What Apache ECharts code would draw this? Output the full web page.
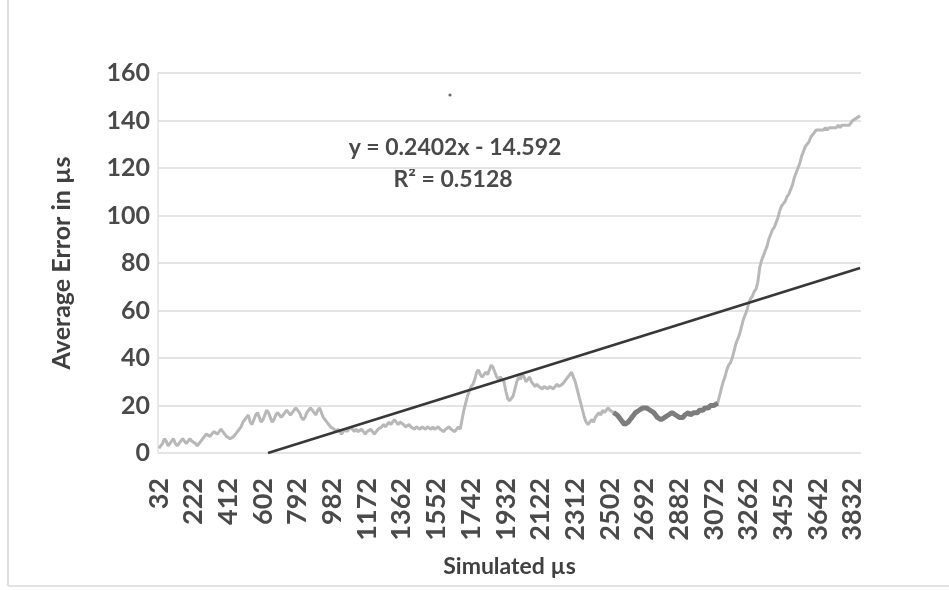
<!DOCTYPE html>
<html>
<head>
<meta charset="utf-8">
<script src="https://cdn.jsdelivr.net/npm/echarts@6/dist/echarts.min.js"></script>
<style>
  html, body { margin: 0; padding: 0; background: #ffffff; }
  #chart { width: 949px; height: 590px; }
</style>
</head>
<body>
<div id="chart"></div>
<script>
// Simulated time axis: one sample every 10 µs starting at 32 µs
const FIRST_US = 32;
const STEP_US = 10;
const SAMPLE_COUNT = 385;
const categories = [];
for (let i = 0; i < SAMPLE_COUNT; i++) categories.push(String(FIRST_US + i * STEP_US));

// Average error (µs) per sample, 19 samples per row
const avgError = [
  2, 3, 4, 6, 5, 3, 4, 5, 6, 4, 3, 4, 5, 6, 5, 4, 4, 6, 5,
  5, 4, 3, 4, 5, 6, 7, 8, 8, 7, 8, 9, 9, 8, 9, 10, 9, 8, 7,
  7, 6, 6, 7, 8, 9, 10, 11, 13, 14, 15, 16, 13, 12, 14, 16, 17, 15, 13,
  14, 16, 18, 17, 15, 13, 14, 16, 17, 16, 15, 16, 17, 18, 17, 16, 17, 18, 19,
  18, 17, 15, 14, 15, 17, 18, 19, 18, 17, 16, 18, 19, 17, 15, 14, 13, 12, 11,
  11, 10, 9, 10, 9, 8, 9, 10, 9, 10, 11, 10, 9, 10, 9, 9, 10, 9, 8,
  9, 9, 10, 9, 8, 9, 10, 10, 11, 12, 11, 12, 13, 12, 13, 14, 13, 12, 13,
  13, 12, 11, 11, 12, 11, 11, 10, 11, 11, 10, 11, 11, 10, 11, 11, 10, 11, 10,
  10, 11, 10, 10, 9, 10, 10, 11, 10, 10, 9, 10, 11, 10, 14, 18, 21, 24, 26,
  28, 29, 31, 34, 35, 33, 32, 33, 34, 33, 35, 37, 36, 34, 32, 31, 32, 31, 30,
  26, 23, 22, 22, 24, 27, 30, 32, 31, 33, 32, 30, 31, 32, 30, 29, 28, 29, 28,
  28, 27, 28, 28, 27, 28, 28, 27, 28, 29, 28, 28, 29, 30, 31, 32, 33, 34, 32,
  30, 27, 24, 21, 18, 15, 13, 12, 13, 14, 13, 15, 16, 17, 16, 18, 17, 18, 19,
  18, 18, 17, 17, 16, 15, 14, 13, 12, 12, 13, 14, 15, 16, 17, 17, 18, 18, 19,
  19, 19, 19, 18, 18, 17, 16, 15, 15, 14, 14, 15, 15, 16, 16, 17, 17, 16, 16,
  15, 15, 15, 16, 16, 17, 16, 16, 17, 17, 17, 18, 18, 18, 19, 19, 19, 20, 20,
  20, 20, 21, 24, 27, 30, 32, 35, 37, 38, 40, 43, 46, 48, 50, 53, 56, 58, 60,
  63, 65, 66, 68, 69, 72, 78, 81, 83, 85, 87, 90, 92, 94, 95, 97, 99, 102, 104,
  105, 106, 108, 109, 111, 113, 116, 118, 120, 122, 125, 127, 129, 130, 131, 133, 134, 135, 136,
  136, 136, 136, 136, 137, 136, 137, 137, 137, 137, 137, 138, 137, 138, 138, 138, 138, 138, 139,
  140, 140, 141, 141, 142
];

// Stretch of samples drawn emphasised (sample indices, inclusive)
const highlightFrom = 249;
const highlightTo = 306;

// Linear trendline over the sample number (1-based)
const trendSlope = 0.2402;
const trendIntercept = -14.592;
const trendR2 = 0.5128;

const yTicks = [0, 20, 40, 60, 80, 100, 120, 140, 160];

const highlighted = avgError.map((v, i) => (i >= highlightFrom && i <= highlightTo ? v : null));
const trendStart = -trendIntercept / trendSlope;           // where the fit crosses 0
const trendEnd = SAMPLE_COUNT;
const trendData = [
  [trendStart, 0],
  [trendEnd, trendSlope * trendEnd + trendIntercept]
];

const FONT = 'Lato, "Open Sans", sans-serif';
const TEXT = '#404040';
const chart = echarts.init(document.getElementById('chart'), null, { renderer: 'canvas' });

chart.setOption({
  animation: false,
  backgroundColor: '#ffffff',
  grid: { left: 158, right: 88, top: 73, bottom: 137, containLabel: false },
  xAxis: [
    {
      type: 'category',
      data: categories,
      boundaryGap: true,
      name: 'Simulated µs',
      nameLocation: 'middle',
      nameGap: 102,
      nameTextStyle: { fontFamily: FONT, fontSize: 23, fontWeight: 'bold', color: TEXT },
      axisLine: { show: false },
      axisTick: { show: false },
      axisLabel: {
        interval: 18,
        rotate: 90,
        margin: 25,
        fontFamily: FONT,
        fontSize: 27,
        fontWeight: 'bold',
        color: '#4a4a4a'
      },
      splitLine: { show: false }
    },
    {
      type: 'value',
      min: 0.5,
      max: SAMPLE_COUNT + 0.5,
      show: false
    }
  ],
  yAxis: {
    type: 'value',
    min: yTicks[0],
    max: yTicks[yTicks.length - 1],
    interval: 20,
    name: 'Average Error in µs',
    nameLocation: 'middle',
    nameGap: 84,
    nameRotate: 90,
    nameTextStyle: { fontFamily: FONT, fontSize: 25, fontWeight: 'bold', color: TEXT },
    axisLine: { show: true, lineStyle: { color: '#e2e2e2', width: 1.5 } },
    axisTick: { show: false },
    axisLabel: { margin: 8, fontFamily: FONT, fontSize: 25, fontWeight: 'bold', color: '#4a4a4a' },
    splitLine: { show: true, lineStyle: { color: '#e4e4e4', width: 2 } }
  },
  series: [
    {
      name: 'Average error',
      type: 'line',
      data: avgError,
      showSymbol: false,
      symbol: 'none',
      lineStyle: { color: '#b8b8b8', width: 3 },
      z: 2
    },
    {
      name: 'Emphasised stretch',
      type: 'line',
      data: highlighted,
      showSymbol: false,
      symbol: 'none',
      connectNulls: false,
      lineStyle: { color: '#7c7c7c', width: 5 },
      z: 3
    },
    {
      name: 'Linear trend',
      type: 'line',
      xAxisIndex: 1,
      data: trendData,
      showSymbol: false,
      symbol: 'none',
      lineStyle: { color: '#383838', width: 2.8 },
      z: 4
    }
  ],
  graphic: [
    {
      type: 'text',
      x: 455, y: 148,
      style: {
        text: 'y = ' + trendSlope.toFixed(4) + 'x - ' + Math.abs(trendIntercept).toFixed(3),
        textAlign: 'center', textVerticalAlign: 'middle',
        font: 'bold 23px ' + FONT, fill: '#4a4a4a'
      }
    },
    {
      type: 'text',
      x: 453, y: 180,
      style: {
        text: 'R² = ' + trendR2.toFixed(4),
        textAlign: 'center', textVerticalAlign: 'middle',
        font: 'bold 23px ' + FONT, fill: '#4a4a4a'
      }
    },
    { type: 'circle', shape: { cx: 450, cy: 95, r: 1.6 }, style: { fill: '#6a6a6a' } },
    // outer frame of the chart area
    { type: 'line', shape: { x1: 8, y1: 0, x2: 8, y2: 586 }, style: { stroke: '#dcdcdc', lineWidth: 2 } },
    { type: 'line', shape: { x1: 8, y1: 586, x2: 949, y2: 586 }, style: { stroke: '#e2e2e2', lineWidth: 2 } }
  ]
});
</script>
</body>
</html>
